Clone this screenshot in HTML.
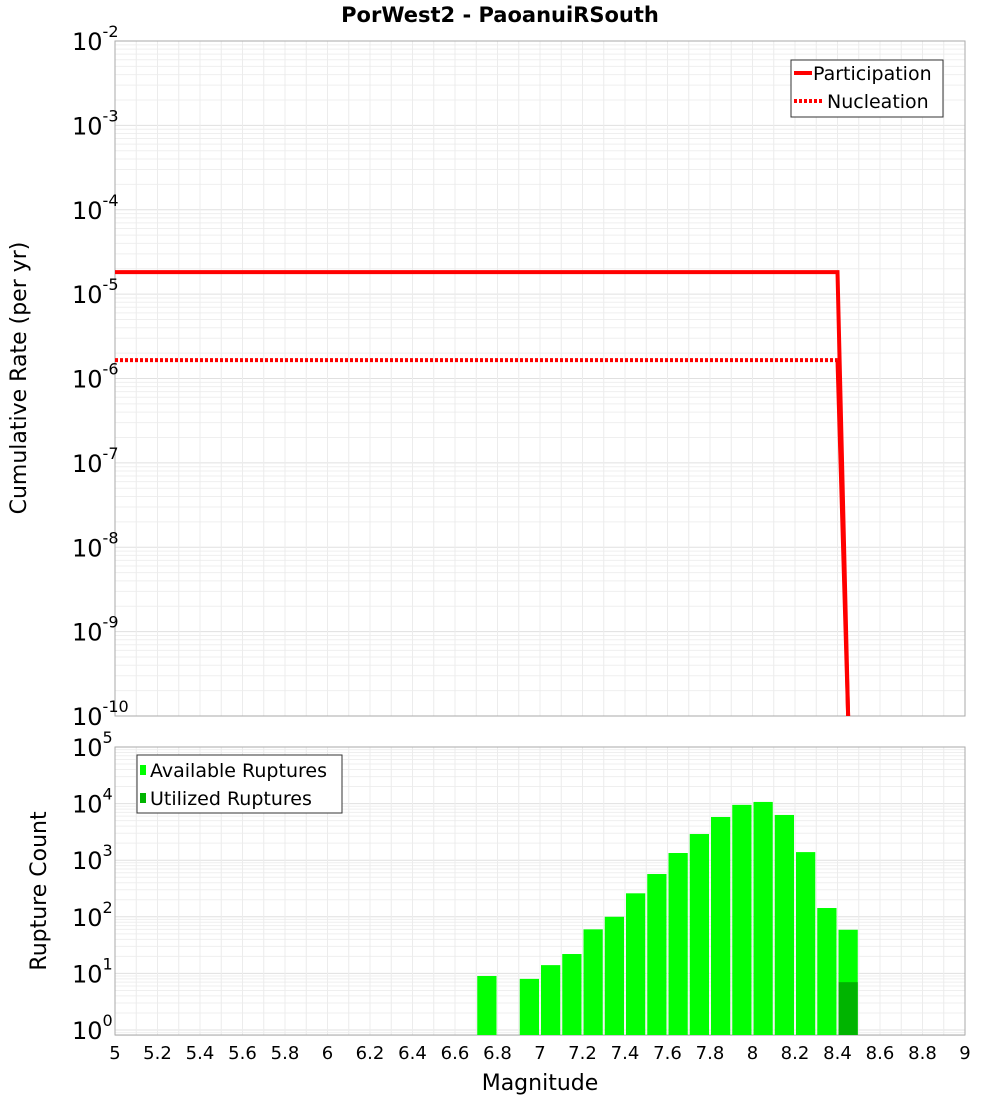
<!DOCTYPE html>
<html><head><meta charset="utf-8"><style>
body{margin:0;background:#fff;font-family:"Liberation Sans","DejaVu Sans",sans-serif}
svg text{font-family:"DejaVu Sans","Liberation Sans",sans-serif}
</style></head><body>
<svg id="c" width="1000" height="1100" xmlns="http://www.w3.org/2000/svg"></svg>
<script>
const xTicks=[5,5.2,5.4,5.6,5.8,6,6.2,6.4,6.6,6.8,7,7.2,7.4,7.6,7.8,8,8.2,8.4,8.6,8.8,9];
const xTickLabels=["5","5.2","5.4","5.6","5.8","6","6.2","6.4","6.6","6.8","7","7.2","7.4","7.6","7.8","8","8.2","8.4","8.6","8.8","9"];
const topExps=[-2,-3,-4,-5,-6,-7,-8,-9,-10];
const botExps=[0,1,2,3,4,5];
const partMag=[5,8.4,8.45];
const partRate=[1.82e-5,1.82e-5,1e-10];
const nuclMag=[5,8.4];
const nuclRate=[1.65e-6,1.65e-6];
const nuclDropMag=[8.4,8.45];
const nuclDropRate=[1.65e-6,1e-10];
const binStart=[6.7,6.9,7.0,7.1,7.2,7.3,7.4,7.5,7.6,7.7,7.8,7.9,8.0,8.1,8.2,8.3,8.4];
const availCounts=[9,8,14,22,60,100,260,570,1340,2900,5800,9500,10700,6300,1390,143,59];
const utilStart=[8.4];
const utilCounts=[7];

const NS="http://www.w3.org/2000/svg",svg=document.getElementById('c');
function el(t,a,p){const e=document.createElementNS(NS,t);for(const k in a)e.setAttribute(k,a[k]);(p||svg).appendChild(e);return e;}
const L=115,R=965;
const X=v=>L+(v-5)/4*(R-L);
const T0=41,T1=716,Ty=v=>T0+(-2-Math.log10(v))/8*(T1-T0);
const B0=747,Bd=56.6,By=v=>1030-Math.log10(v)*Bd,B1=1035;

function grid(y0,y1,yf,emin,emax,name){
  const g=el('g',{});
  for(let e=emin;e<emax;e++)for(let m=1;m<10;m++){const y=yf(m*Math.pow(10,e));if(y<y0-0.5||y>y1+0.5)continue;
    el('line',{x1:L,x2:R,y1:y,y2:y,stroke:m==1?'#e0e0e0':'#efefef','stroke-width':1},g);}
  for(let v=5;v<=9.001;v+=0.1){el('line',{x1:X(v),x2:X(v),y1:y0,y2:y1,stroke:'#ececec','stroke-width':1},g);}
}
grid(T0,T1,Ty,-10,-2,'top-grid');
grid(B0,B1,By,-1,5,'bottom-grid');
let f=el('rect',{x:L,y:T0,width:R-L,height:T1-T0,fill:'none',stroke:'#aaa'});
f=el('rect',{x:L,y:B0,width:R-L,height:B1-B0,fill:'none',stroke:'#aaa'});

function ylab(y,e,name){const t=el('text',{x:72,y:y+9,'font-size':24,fill:'#000'});
  t.textContent='10';const s=el('tspan',{dy:-13,'font-size':16},t);s.textContent=String(e);}
topExps.forEach(e=>ylab(Ty(Math.pow(10,e)),e,'top-y-tick'));
botExps.forEach(e=>ylab(By(Math.pow(10,e)),e,'bottom-y-tick'));
xTicks.forEach((v,i)=>{const t=el('text',{x:X(v),y:1059,'font-size':18,'text-anchor':'middle'});t.textContent=xTickLabels[i];});

// bars
binStart.forEach((m,i)=>{const r=el('rect',{x:X(m)+1,y:By(availCounts[i]),width:X(m+0.1)-X(m)-2,height:B1-By(availCounts[i]),fill:'#00ff00'});
  });
utilStart.forEach((m,i)=>{const r=el('rect',{x:X(m)+1,y:By(utilCounts[i]),width:X(m+0.1)-X(m)-2,height:B1-By(utilCounts[i]),fill:'#00b400'});
  });

// lines
function poly(ms,vs,dash,name){const p=el('polyline',{points:ms.map((m,i)=>X(m)+','+Ty(vs[i])).join(' '),fill:'none',stroke:'#ff0000','stroke-width':4,'stroke-dasharray':dash||'none'});
  }
const cp=el('clipPath',{id:'cl'});el('rect',{x:L,y:T0,width:R-L,height:T1-T0},cp);
poly(nuclMag,nuclRate,'3,2','nucleation-line');
poly(nuclDropMag,nuclDropRate,null,'nucleation-drop');
poly(partMag,partRate,null,'participation-line');

// title & axis titles
let t=el('text',{x:500,y:22,'font-size':21,'font-weight':'bold','text-anchor':'middle'});t.textContent='PorWest2 - PaoanuiRSouth';
t=el('text',{x:540,y:1090,'font-size':22,'text-anchor':'middle'});t.textContent='Magnitude';
t=el('text',{x:0,y:0,'font-size':22,'text-anchor':'middle',transform:'translate(26,378) rotate(-90)'});t.textContent='Cumulative Rate (per yr)';
t=el('text',{x:0,y:0,'font-size':22,'text-anchor':'middle',transform:'translate(46,891) rotate(-90)'});t.textContent='Rupture Count';

// legends
let g=el('g',{});
el('rect',{x:791,y:60,width:152,height:57,fill:'#fff',stroke:'#333'},g);
el('line',{x1:794,x2:812,y1:73,y2:73,stroke:'#f00','stroke-width':4},g);
el('line',{x1:794,x2:822,y1:101,y2:101,stroke:'#f00','stroke-width':4,'stroke-dasharray':'3,2'},g);
t=el('text',{x:813,y:80,'font-size':19},g);t.textContent='Participation';
t=el('text',{x:827,y:108,'font-size':19},g);t.textContent='Nucleation';
g=el('g',{});
el('rect',{x:137,y:755,width:205,height:58,fill:'#fff',stroke:'#333'},g);
el('rect',{x:140,y:765,width:6,height:10,fill:'#00ff00'},g);
el('rect',{x:140,y:793,width:6,height:10,fill:'#00b400'},g);
t=el('text',{x:150,y:777,'font-size':19},g);t.textContent='Available Ruptures';
t=el('text',{x:150,y:805,'font-size':19},g);t.textContent='Utilized Ruptures';
</script>
</body></html>
